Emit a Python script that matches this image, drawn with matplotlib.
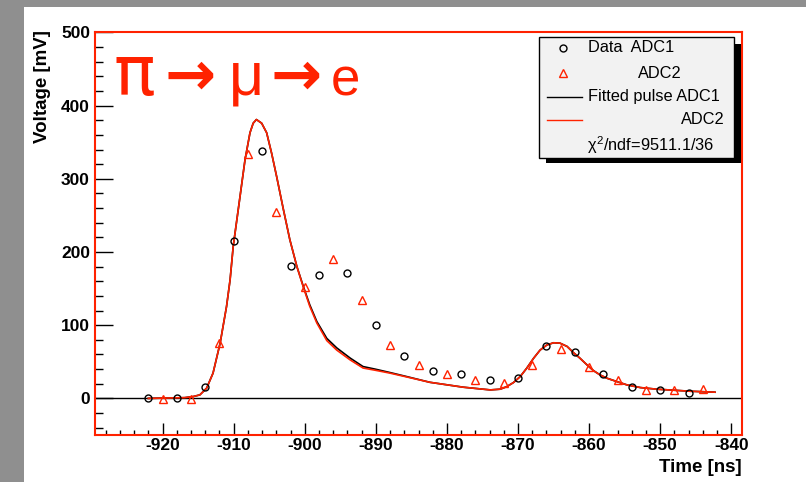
import matplotlib
matplotlib.use("Agg")
import matplotlib.pyplot as plt
from matplotlib.patches import Rectangle
from matplotlib.lines import Line2D
from matplotlib.ticker import MultipleLocator

plt.rcParams['font.family'] = ['Liberation Sans', 'DejaVu Sans']
plt.rcParams['axes.unicode_minus'] = False
plt.rcParams['mathtext.fontset'] = 'custom'
plt.rcParams['mathtext.rm'] = 'Liberation Sans'
plt.rcParams['mathtext.it'] = 'Liberation Sans'
plt.rcParams['mathtext.bf'] = 'Liberation Sans:bold'

# ---- data ----
t_adc1 = [-922, -918, -914, -910, -906, -902, -898, -894, -890, -886,
          -882, -878, -874, -870, -866, -862, -858, -854, -850, -846]
v_adc1 = [0, 0, 16, 215, 338, 181, 168, 172, 100, 58,
          37, 33, 25, 28, 71, 63, 33, 16, 11, 8]

t_adc2 = [-920, -916, -912, -908, -904, -900, -896, -892, -888, -884,
          -880, -876, -872, -868, -864, -860, -856, -852, -848, -844]
v_adc2 = [-1, -1, 76, 334, 255, 152, 190, 134, 73, 46,
          33, 25, 21, 46, 68, 43, 25, 12, 12, 13]

fit_t = [-922.0, -916.9, -915.7, -914.75, -913.8, -912.9, -911.9, -911.0, -910.5,
         -910.06, -909.1, -908.4, -907.7, -907.25, -906.8, -906.06, -905.36,
         -904.66, -903.95, -903.0, -902.1, -901.1, -900.2, -899.3, -898.3,
         -896.9, -895.5, -893.6, -891.8, -890.1, -888.0, -885.65, -882.4,
         -877.7, -873.9, -872.5, -871.6, -870.65, -869.7, -868.8, -867.8,
         -866.9, -865.95, -865.0, -864.1, -863.1, -862.2, -861.3, -860.3,
         -859.4, -858.45, -857.5, -856.1, -854.7, -852.8, -850.5, -848.1,
         -845.8, -842.3]
fit_v1 = [0, 1, 2.5, 4.8, 14, 34.5, 75.5, 125.6, 162,
          207.7, 276, 326, 363, 376, 381, 376, 363,
          335, 303, 258, 217, 180, 153, 128, 105,
          82, 69, 55, 43.5, 40, 35.3, 29.8, 22,
          15.3, 11.6, 12.6, 16, 21.6, 29.8, 41, 55,
          66, 73, 76, 75.5, 71, 62.5, 55, 45.8,
          38, 32, 27.6, 23, 18.5, 14.8, 12.6, 11.2,
          9.8, 8.5]
fit_v2 = [0, 1, 2.5, 4.8, 14, 34.5, 75.5, 125.6, 162,
          207.7, 276, 326, 363, 376, 381, 376, 363,
          335, 303, 258, 217, 180, 152, 126, 103,
          79, 66, 52.5, 41.5, 38.5, 34.5, 29.3, 22,
          15.3, 11.6, 12.6, 16, 21.6, 29.8, 41, 55,
          66, 73, 76, 75.5, 71, 62.5, 55, 45.8,
          38, 32, 27.6, 23, 18.5, 14.8, 12.6, 11.2,
          9.8, 8.5]

RED = '#ff2200'
W, H = 806, 482
def fx(x): return x / W
def fy(y): return 1 - y / H

fig = plt.figure(figsize=(W / 100, H / 100), dpi=100, facecolor='#8f8f8f')
fig.add_artist(Rectangle((fx(24), 0), 1, fy(7), transform=fig.transFigure,
                         facecolor='white', edgecolor='none', zorder=-10))

ax = fig.add_axes([fx(95), fy(435), (742 - 95) / W, (435 - 31.7) / H])
ax.set_xlim(-929.5, -838.5)
ax.set_ylim(-50, 501)

ax.axhline(0, color='k', lw=1, zorder=1)
ax.plot(fit_t, fit_v1, color='k', lw=1.2, zorder=2)
ax.plot(fit_t, fit_v2, color=RED, lw=1.2, zorder=3)
ax.plot(t_adc1, v_adc1, 'o', mfc='none', mec='k', ms=5, mew=1, zorder=4)
ax.plot(t_adc2, v_adc2, '^', mfc='none', mec=RED, ms=5.5, mew=1, zorder=4)

ax.xaxis.set_major_locator(MultipleLocator(10))
ax.xaxis.set_minor_locator(MultipleLocator(2))
ax.yaxis.set_major_locator(MultipleLocator(100))
ax.yaxis.set_minor_locator(MultipleLocator(20))
ax.tick_params(axis='x', which='major', direction='in', length=8.4, width=1,
               top=False, pad=2, labelsize=12.5)
ax.tick_params(axis='x', which='minor', direction='in', length=3.6, width=1, top=False)
ax.tick_params(axis='y', which='major', direction='in', length=13, width=1,
               right=False, pad=3.6, labelsize=12.5)
ax.tick_params(axis='y', which='minor', direction='in', length=6, width=1, right=False)
for lab in ax.get_xticklabels() + ax.get_yticklabels():
    lab.set_fontweight('bold')
for s in ax.spines.values():
    s.set_color(RED)
    s.set_linewidth(1.5)

fig.text(fx(42.5), fy(30), 'Voltage [mV]', rotation=90, ha='center', va='top',
         fontsize=13.5, fontweight='bold')
fig.text(fx(742), fy(467), 'Time [ns]', ha='right', va='center',
         fontsize=13.5, fontweight='bold')

# title pieces
fig.text(fx(114), fy(95), 'π', color=RED, fontsize=50, ha='left', va='baseline',
         family=['DejaVu Sans'])
fig.text(fx(165), fy(95), '→', color=RED, fontsize=44, ha='left', va='baseline',
         family=['DejaVu Sans'], fontweight='bold')
fig.text(fx(229), fy(95), 'μ', color=RED, fontsize=44, ha='left', va='baseline')
fig.text(fx(270), fy(95), '→', color=RED, fontsize=44, ha='left', va='baseline',
         family=['DejaVu Sans'], fontweight='bold')
fig.text(fx(331), fy(95), 'e', color=RED, fontsize=38, ha='left', va='baseline')

# legend
fig.add_artist(Rectangle((fx(546), fy(163)), (741 - 546) / W, (163 - 44) / H,
                         transform=fig.transFigure, facecolor='black',
                         edgecolor='none', zorder=5))
fig.add_artist(Rectangle((fx(539), fy(158)), (734 - 539) / W, (158 - 37) / H,
                         transform=fig.transFigure, facecolor='#f2f2f2',
                         edgecolor='black', lw=1, zorder=6))
fig.add_artist(Line2D([fx(563)], [fy(48)], marker='o', mfc='none', mec='k', ms=5,
                      mew=1, transform=fig.transFigure, zorder=7))
fig.add_artist(Line2D([fx(563)], [fy(73)], marker='^', mfc='none', mec=RED, ms=5.5,
                      mew=1, transform=fig.transFigure, zorder=7))
fig.add_artist(Line2D([fx(547), fx(582)], [fy(97), fy(97)], color='k', lw=1,
                      transform=fig.transFigure, zorder=7))
fig.add_artist(Line2D([fx(547), fx(582)], [fy(120), fy(120)], color=RED, lw=1,
                      transform=fig.transFigure, zorder=7))
lk = dict(fontsize=11.8, va='center', ha='left', zorder=8)
fig.text(fx(588), fy(48), 'Data  ADC1', **lk)
fig.text(fx(638), fy(73), 'ADC2', **lk)
fig.text(fx(588), fy(97), 'Fitted pulse ADC1', **lk)
fig.text(fx(681), fy(120), 'ADC2', **lk)
fig.text(fx(587), fy(145), r'$\chi^{2}$/ndf=9511.1/36', **lk)

fig.savefig('out.png', dpi=100, facecolor=fig.get_facecolor())
